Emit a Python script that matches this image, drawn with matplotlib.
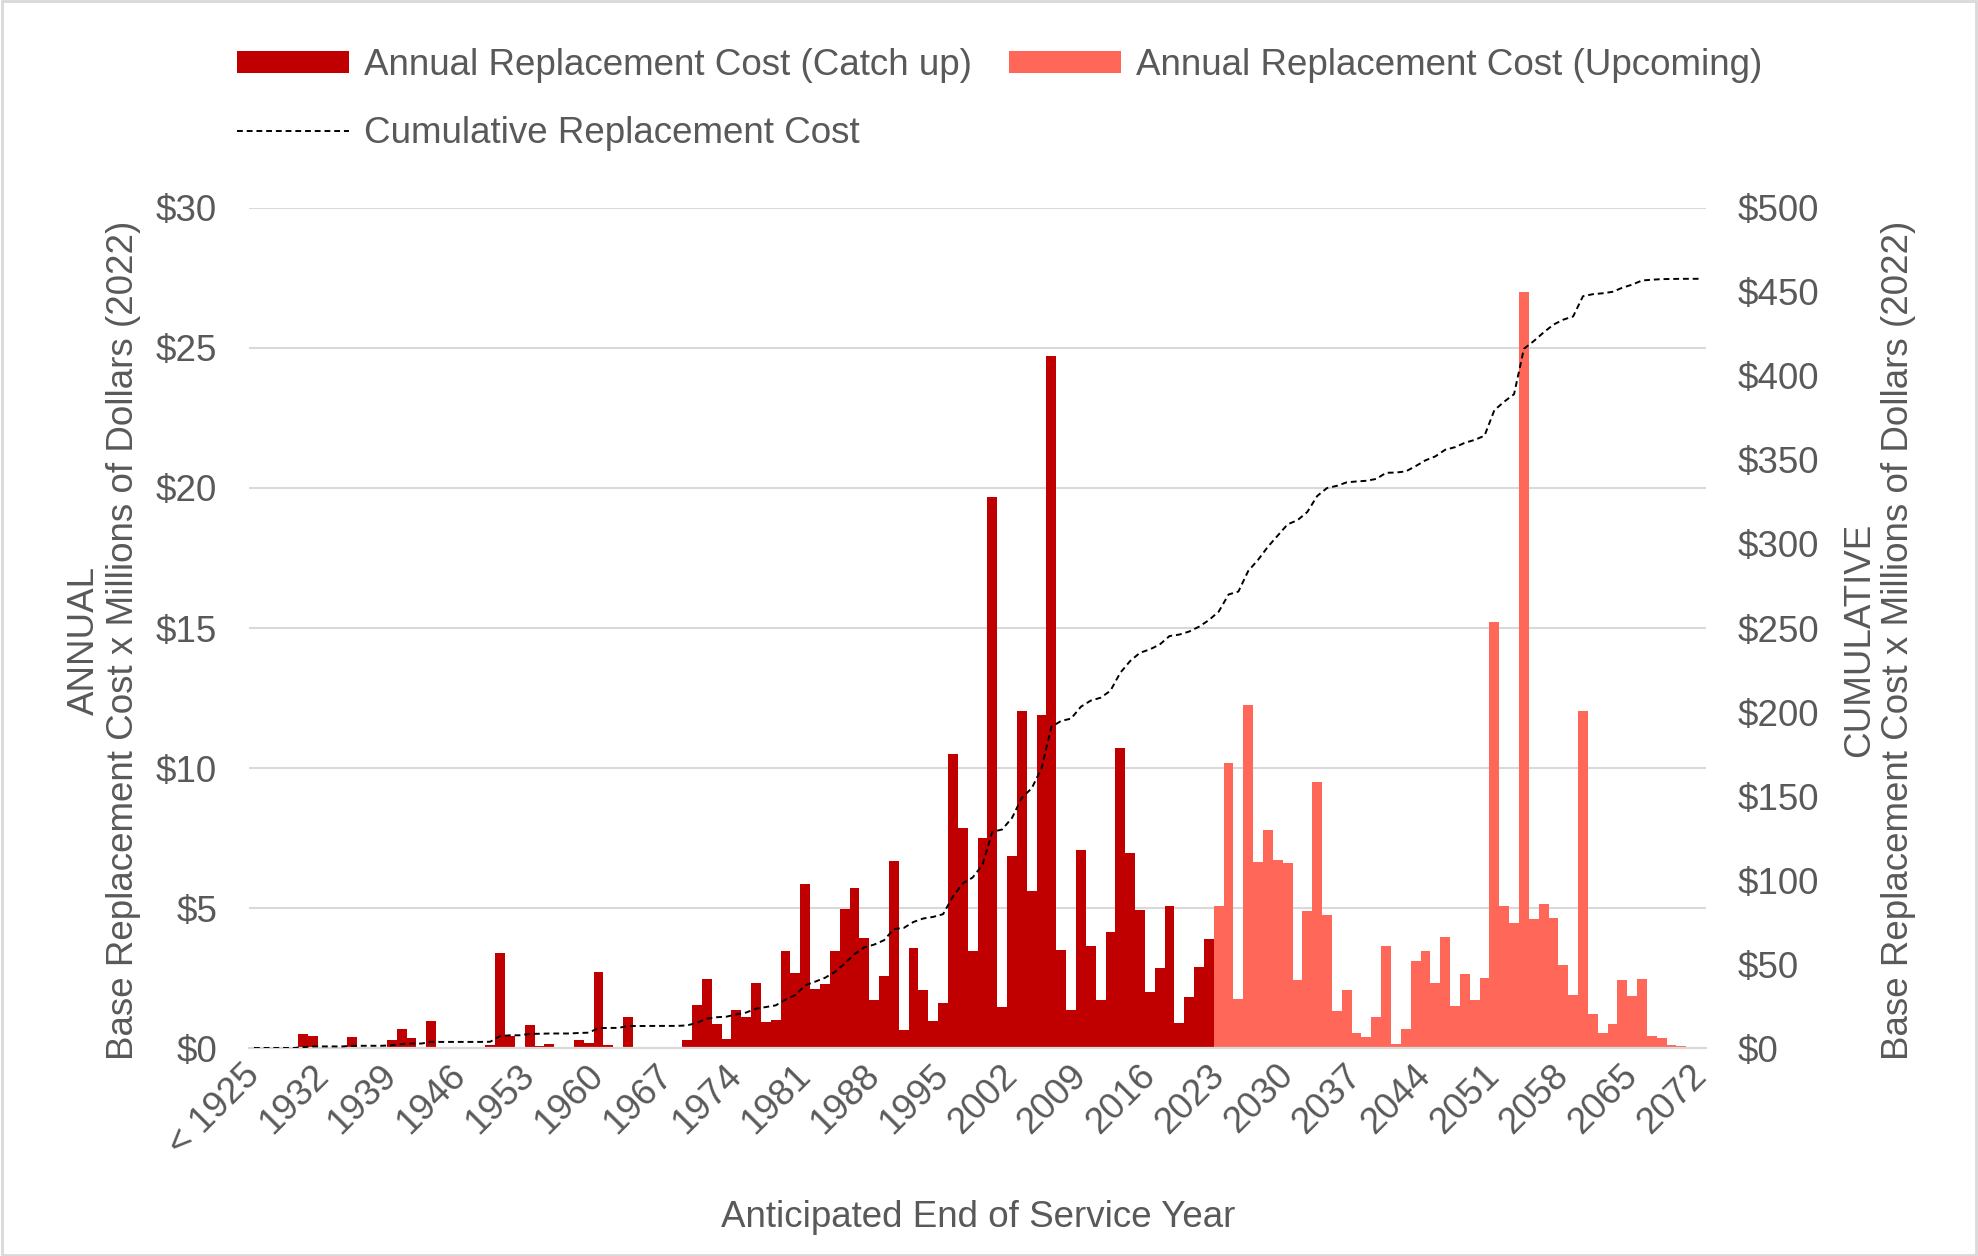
import matplotlib

matplotlib.use("Agg")
import matplotlib.pyplot as plt
import numpy as np
from matplotlib.lines import Line2D
from matplotlib.patches import Patch, Rectangle
from matplotlib.ticker import FixedLocator, FuncFormatter

# categories: "< 1925" then one per year up to 2072
YEAR_LABELS = ["< 1925"] + [str(year) for year in range(1926, 2073)]

# annual cost, millions of 2022 dollars, "< 1925" .. 2022
CATCH_UP = [
    0, 0, 0, 0, 0, 0.51, 0.44, 0, 0, 0,
    0.38, 0, 0, 0, 0.30, 0.69, 0.34, 0, 0.97, 0,
    0, 0, 0, 0, 0.10, 3.40, 0.44, 0, 0.83, 0.08,
    0.16, 0, 0, 0.30, 0.19, 2.72, 0.10, 0, 1.11, 0.05,
    0.05, 0, 0, 0, 0.30, 1.55, 2.47, 0.84, 0.33, 1.36,
    1.11, 2.33, 0.93, 1.00, 3.47, 2.68, 5.84, 2.11, 2.30, 3.45,
    4.97, 5.72, 3.94, 1.70, 2.58, 6.69, 0.63, 3.58, 2.06, 0.95,
    1.61, 10.50, 7.84, 3.46, 7.49, 19.68, 1.45, 6.84, 12.05, 5.59,
    11.90, 24.73, 3.51, 1.36, 7.07, 3.66, 1.70, 4.16, 10.70, 6.97,
    4.94, 2.00, 2.87, 5.07, 0.89, 1.81, 2.89, 3.90,
]

# annual cost, millions of 2022 dollars, 2023 .. 2072
UPCOMING = [
    5.07, 10.19, 1.76, 12.25, 6.64, 7.80, 6.71, 6.61, 2.44, 4.89,
    9.51, 4.75, 1.31, 2.07, 0.54, 0.39, 1.12, 3.64, 0.15, 0.68,
    3.12, 3.48, 2.32, 3.97, 1.51, 2.64, 1.70, 2.51, 15.20, 5.06,
    4.46, 27.00, 4.59, 5.15, 4.65, 2.97, 1.90, 12.05, 1.20, 0.54,
    0.87, 2.44, 1.85, 2.47, 0.44, 0.37, 0.11, 0.06, 0.02, 0.0,
]

TEXT_COLOR = "#595959"
GRID_COLOR = "#D9D9D9"
CATCH_UP_COLOR = "#C00000"
UPCOMING_COLOR = "#FF6859"
FONT_SIZE = 26.5
DASH = (0, (3, 2))


def dollars(value, _pos):
    return f"${value:,.0f}"


def build_plot(output_path):
    plt.rcParams["font.family"] = ["Liberation Sans", "DejaVu Sans"]
    plt.rcParams["font.size"] = FONT_SIZE

    fig = plt.figure(figsize=(19.78, 12.56), dpi=100)
    ax = fig.add_axes([0.1259, 0.1656, 0.7366, 0.6688])
    ax2 = ax.twinx()

    n_catch = len(CATCH_UP)
    x_catch = np.arange(n_catch)
    x_up = np.arange(n_catch, n_catch + len(UPCOMING))
    x_all = np.arange(len(YEAR_LABELS))

    ax.bar(x_catch, CATCH_UP, width=1.0, color=CATCH_UP_COLOR, linewidth=0, zorder=2)
    ax.bar(x_up, UPCOMING, width=1.0, color=UPCOMING_COLOR, linewidth=0, zorder=2)

    cumulative = np.cumsum(CATCH_UP + UPCOMING)
    ax2.plot(x_all, cumulative, color="black", linewidth=1.4, linestyle=DASH, zorder=3)

    ax.set_xlim(-0.5, len(YEAR_LABELS) - 0.5)
    ax.set_ylim(0, 30)
    ax2.set_ylim(0, 500)
    ax.set_yticks(np.arange(0, 31, 5))
    ax2.set_yticks(np.arange(0, 501, 50))
    ax.yaxis.set_major_formatter(FuncFormatter(dollars))
    ax2.yaxis.set_major_formatter(FuncFormatter(dollars))

    tick_index = list(range(0, len(YEAR_LABELS), 7))
    ax.xaxis.set_major_locator(FixedLocator(tick_index))
    ax.set_xticklabels([YEAR_LABELS[i] for i in tick_index], rotation=45, ha="right",
                       va="center", rotation_mode="anchor")

    for axis in (ax, ax2):
        for side in ("top", "left", "right", "bottom"):
            axis.spines[side].set_visible(False)
        axis.tick_params(axis="both", length=0, colors=TEXT_COLOR, labelsize=FONT_SIZE)
    ax.tick_params(axis="y", pad=23)
    ax2.tick_params(axis="y", pad=23)
    ax.tick_params(axis="x", pad=16)
    ax.spines["bottom"].set_visible(True)
    ax.spines["bottom"].set_color(GRID_COLOR)
    ax.spines["bottom"].set_linewidth(1.6)

    ax.grid(axis="y", color=GRID_COLOR, linewidth=1.5, zorder=0)
    ax.set_axisbelow(True)
    ax2.set_zorder(ax.get_zorder() + 1)
    ax2.patch.set_visible(False)

    fig.text(0.4945, 0.031, "Anticipated End of Service Year", ha="center", va="center",
             color=TEXT_COLOR, fontsize=FONT_SIZE)
    fig.text(0.0526, 0.4904, "ANNUAL\nBase Replacement Cost x Millions of Dollars (2022)",
             rotation=90, ha="center", va="center", multialignment="center",
             color=TEXT_COLOR, fontsize=FONT_SIZE, linespacing=1.15)
    fig.text(0.950, 0.4904, "CUMULATIVE\nBase Replacement Cost x Millions of Dollars (2022)",
             rotation=90, ha="center", va="center", multialignment="center",
             color=TEXT_COLOR, fontsize=FONT_SIZE, linespacing=1.15)

    handles = [
        Patch(facecolor=CATCH_UP_COLOR, edgecolor="none"),
        Line2D([], [], color="black", linewidth=1.4, linestyle=DASH),
        Patch(facecolor=UPCOMING_COLOR, edgecolor="none"),
    ]
    labels = [
        "Annual Replacement Cost (Catch up)",
        "Cumulative Replacement Cost",
        "Annual Replacement Cost (Upcoming)",
    ]
    legend = fig.legend(handles, labels, loc="upper left", bbox_to_anchor=(0.1198, 0.962),
                        ncols=2, frameon=False, handlelength=3.05, handleheight=0.55,
                        handletextpad=0.4, columnspacing=1.0, labelspacing=0.9,
                        borderpad=0, borderaxespad=0, fontsize=FONT_SIZE)
    for text in legend.get_texts():
        text.set_color(TEXT_COLOR)

    fig.patches.append(Rectangle((0.001, 0.001), 0.998, 0.998, transform=fig.transFigure,
                                 fill=False, edgecolor=GRID_COLOR, linewidth=2))

    fig.savefig(output_path, dpi=100)


def main():
    build_plot("out.png")


if __name__ == "__main__":
    main()
